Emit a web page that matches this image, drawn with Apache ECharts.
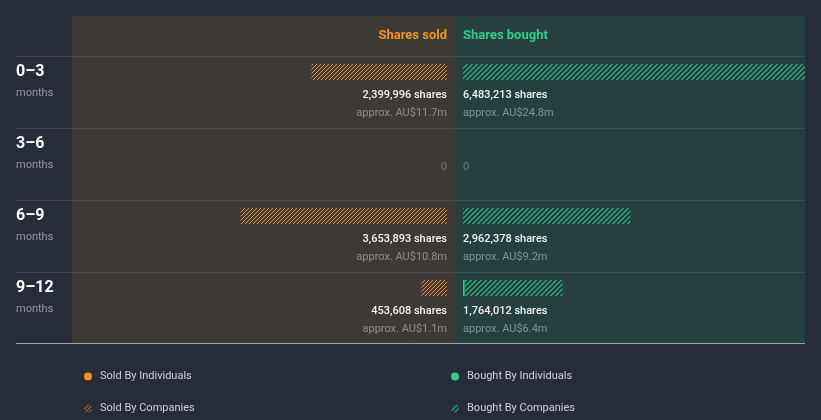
<!DOCTYPE html>
<html><head><meta charset="utf-8">
<script src="https://cdn.jsdelivr.net/npm/echarts@6/dist/echarts.min.js"></script>
<style>html,body{margin:0;padding:0;background:#262c38;}#c{width:821px;height:420px;}</style>
</head><body><div id="c"></div>
<script>
// ---- data ----
const periods = ['0–3', '3–6', '6–9', '9–12'];
const periodUnit = 'months';
const soldByIndividuals = [0, 0, 0, 0];
const soldByCompanies = [2399996, 0, 3653893, 453608];
const boughtByIndividuals = [0, 0, 0, 30000];
const boughtByCompanies = [6483213, 0, 2962378, 1734012];
const soldShares = [2399996, 0, 3653893, 453608];
const boughtShares = [6483213, 0, 2962378, 1764012];
const soldValue = ['AU$11.7m', '', 'AU$10.8m', 'AU$1.1m'];
const boughtValue = ['AU$24.8m', '', 'AU$9.2m', 'AU$6.4m'];
const headers = ['Shares sold', 'Shares bought'];
const legendNames = ['Sold By Individuals', 'Sold By Companies', 'Bought By Individuals', 'Bought By Companies'];

// ---- style ----
const ORANGE = '#f7931a', GREEN = '#2bd18b', GREEN_HATCH = '#27a274';
const FONT = 'Roboto, "Noto Sans", sans-serif';
function hatch(color, period, width) {
  const c = document.createElement('canvas'); c.width = period; c.height = period;
  const g = c.getContext('2d'); g.fillStyle = color;
  for (let y = 0; y < period; y++) for (let x = 0; x < period; x++)
    if (((x + y) % period) < width) g.fillRect(x, y, 1, 1);
  return { image: c, repeat: 'repeat' };
}
const orangeHatch = hatch(ORANGE, 4, 1);
const greenHatch = hatch(GREEN_HATCH, 5, 2);
const fmt = v => v.toLocaleString('en-US');

const chart = echarts.init(document.getElementById('c'));

function labelRender(side) {
  return function (params, api) {
    const i = api.value(1);
    const p = api.coord([0, i]);
    const shares = side === 'sold' ? soldShares[i] : boughtShares[i];
    const val = side === 'sold' ? soldValue[i] : boughtValue[i];
    const align = side === 'sold' ? 'right' : 'left';
    const children = [];
    if (shares === 0) {
      children.push({ type: 'text', x: p[0], y: p[1] + 23, style: { text: '0', align, verticalAlign: 'middle', fill: 'rgba(255,255,255,0.3)', font: '11px ' + FONT } });
    } else {
      children.push({ type: 'text', x: p[0], y: p[1] + 23, style: { text: fmt(shares) + ' shares', align, verticalAlign: 'middle', fill: '#f2f2f2', font: '500 11px ' + FONT } });
      children.push({ type: 'text', x: p[0], y: p[1] + 41, style: { text: 'approx. ' + val, align, verticalAlign: 'middle', fill: 'rgba(255,255,255,0.42)', font: '11px ' + FONT } });
    }
    if (side === 'sold') {
      children.push({ type: 'text', x: 16, y: p[1], style: { text: periods[i], align: 'left', verticalAlign: 'middle', fill: '#ffffff', font: 'bold 16px ' + FONT } });
      children.push({ type: 'text', x: 16, y: p[1] + 21, style: { text: periodUnit, align: 'left', verticalAlign: 'middle', fill: 'rgba(255,255,255,0.5)', font: '11px ' + FONT } });
    }
    return { type: 'group', children };
  };
}

const sepLines = [56, 128, 200, 272].map(y => ({
  type: 'line', shape: { x1: 16, y1: y + 0.5, x2: 805, y2: y + 0.5 },
  style: { stroke: 'rgba(255,255,255,0.1)', lineWidth: 1 }, z: 1, silent: true
}));

chart.setOption({
  backgroundColor: '#262c38',
  animation: false,
  textStyle: { fontFamily: FONT },
  graphic: [
    { type: 'rect', shape: { x: 72, y: 16, width: 383, height: 327 }, style: { fill: '#3d3935' }, z: 0, silent: true },
    { type: 'rect', shape: { x: 455, y: 16, width: 350, height: 327 }, style: { fill: '#25403f' }, z: 0, silent: true },
    ...sepLines,
    { type: 'line', shape: { x1: 16, y1: 343.5, x2: 805, y2: 343.5 }, style: { stroke: '#9ba3ab', lineWidth: 1 }, z: 1, silent: true },
    { type: 'text', x: 447, y: 36, style: { text: headers[0], align: 'right', verticalAlign: 'middle', fill: ORANGE, font: 'bold 13px ' + FONT }, z: 2 },
    { type: 'text', x: 463, y: 36, style: { text: headers[1], align: 'left', verticalAlign: 'middle', fill: GREEN, font: 'bold 13px ' + FONT }, z: 2 }
  ],
  grid: [
    { left: 72, top: 36, width: 375, height: 288 },
    { left: 463, top: 36, width: 342, height: 288 }
  ],
  xAxis: [
    { gridIndex: 0, type: 'value', min: 0, max: 6637000, inverse: true, show: false },
    { gridIndex: 1, type: 'value', min: 0, max: 6053000, show: false }
  ],
  yAxis: [
    { gridIndex: 0, type: 'category', data: periods, inverse: true, show: false },
    { gridIndex: 1, type: 'category', data: periods, inverse: true, show: false }
  ],
  legend: [
    { left: 84, top: 371, orient: 'vertical', itemGap: 21, itemWidth: 8, itemHeight: 8, icon: 'circle', padding: 0,
      data: [legendNames[0], legendNames[1]], textStyle: { color: '#cfd2d6', fontSize: 11, fontFamily: FONT, padding: [0, 0, 0, 3] } },
    { left: 451, top: 371, orient: 'vertical', itemGap: 21, itemWidth: 8, itemHeight: 8, icon: 'circle', padding: 0,
      data: [legendNames[2], legendNames[3]], textStyle: { color: '#cfd2d6', fontSize: 11, fontFamily: FONT, padding: [0, 0, 0, 3] } }
  ],
  series: [
    { name: legendNames[0], type: 'bar', xAxisIndex: 0, yAxisIndex: 0, stack: 'sold', barWidth: 16, data: soldByIndividuals, itemStyle: { color: ORANGE }, silent: true, z: 3 },
    { name: legendNames[1], type: 'bar', xAxisIndex: 0, yAxisIndex: 0, stack: 'sold', barWidth: 16, data: soldByCompanies, itemStyle: { color: orangeHatch }, silent: true, z: 3 },
    { name: legendNames[2], type: 'bar', xAxisIndex: 1, yAxisIndex: 1, stack: 'bought', barWidth: 16, data: boughtByIndividuals, itemStyle: { color: GREEN }, silent: true, z: 3 },
    { name: legendNames[3], type: 'bar', xAxisIndex: 1, yAxisIndex: 1, stack: 'bought', barWidth: 16, data: boughtByCompanies, itemStyle: { color: greenHatch }, silent: true, z: 3 },
    { type: 'custom', xAxisIndex: 0, yAxisIndex: 0, data: periods.map((p, i) => [0, i]), encode: { x: 0, y: 1 }, renderItem: labelRender('sold'), silent: true, z: 5 },
    { type: 'custom', xAxisIndex: 1, yAxisIndex: 1, data: periods.map((p, i) => [0, i]), encode: { x: 0, y: 1 }, renderItem: labelRender('bought'), silent: true, z: 5 }
  ]
});
</script></body></html>
